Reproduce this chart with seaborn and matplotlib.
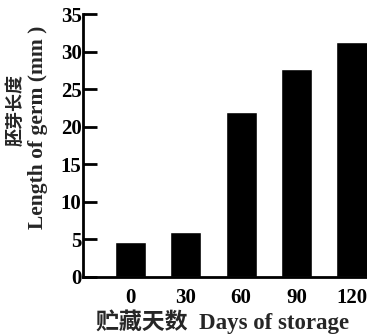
import matplotlib
matplotlib.use("Agg")
import matplotlib.pyplot as plt
import seaborn as sns
import pandas as pd

days = ["0", "30", "60", "90", "120"]
germ_length = [4.7, 6.0, 22.0, 27.7, 31.3]
yticks = [0, 5, 10, 15, 20, 25, 30, 35]

sns.set_theme(style="ticks")
plt.rcParams['font.family'] = ['Liberation Serif', 'Noto Sans CJK SC']
plt.rcParams['font.weight'] = 'bold'

df = pd.DataFrame({"days": days, "len": germ_length})

fig = plt.figure(figsize=(3.67, 3.34), dpi=100)
ax = fig.add_axes([83/367, 57/334, (367-83)/367, (320-57)/334])
sns.barplot(data=df, x="days", y="len", order=days, color="black",
            saturation=1, width=0.56, ax=ax)

ax.set_ylim(0, 35)
ax.set_xlim(-0.85, 4.27)
ax.set_yticks(yticks)
ax.set_yticklabels([str(t) for t in yticks], fontsize=15, fontweight='bold')
ax.set_xticklabels(days, fontsize=15, fontweight='bold')
ax.tick_params(axis='y', direction='in', length=10, width=2, pad=1, colors='black')
ax.tick_params(axis='x', length=0, pad=8, colors='black')
for s in ['top', 'right']:
    ax.spines[s].set_visible(False)
for s in ['left', 'bottom']:
    ax.spines[s].set_linewidth(2)
    ax.spines[s].set_color('black')
ax.set_xlabel("")
ax.set_ylabel("")

fig.text(15/367, 1 - 110/334, "胚芽长度", rotation=90, ha='center', va='center',
         fontsize=13, fontweight='bold', family=['Noto Sans CJK SC'])
fig.text(38/367, 1 - 127/334, "Length of germ (mm )", rotation=90, ha='center', va='center',
         fontsize=15.5, fontweight='bold', family=['Liberation Serif'])
fig.text(223/367, 1 - 322/334, "贮藏天数  Days of storage", ha='center', va='center',
         fontsize=16.5, fontweight='bold', family=['Liberation Serif', 'Noto Sans CJK SC'])

fig.savefig("out.png", dpi=100)
